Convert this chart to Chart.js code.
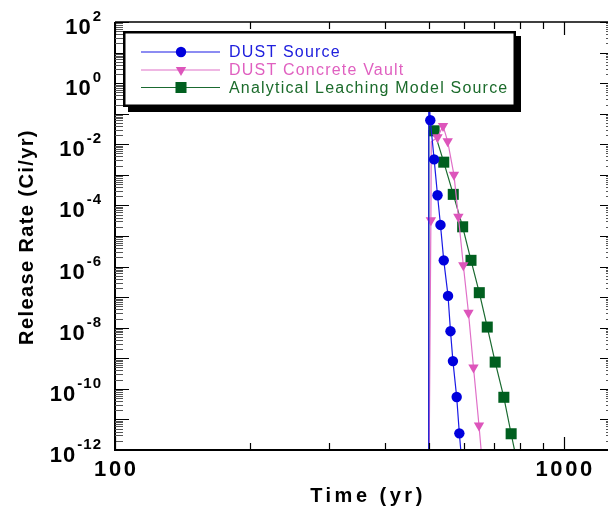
<!DOCTYPE html>
<html>
<head>
<meta charset="utf-8">
<script src="https://cdn.jsdelivr.net/npm/chart.js@4.4.1/dist/chart.umd.min.js"></script>
<style>
  html, body { margin: 0; padding: 0; background: #fff; overflow: hidden; width: 608px; height: 512px; }
  #wrap { position: relative; width: 614px; height: 512px; }
  canvas { display: block; }
</style>
</head>
<body>
<div id="wrap"><canvas id="chart" width="614" height="512"></canvas></div>
<script>
// Release rate histories (Ci/yr) after container failure at 500 yr.
const seriesNames = ['DUST Source', 'DUST Concrete Vault', 'Analytical Leaching Model Source'];

const dustSourceTime   = [500, 500, 504, 514, 523, 531, 540, 552, 559, 566, 577, 585, 594];
const dustSourceRate   = [1e-14, 0.5, 0.061, 3.2e-3, 2.15e-4, 2.3e-5, 1.6e-6, 1.1e-7, 7.7e-9, 8.1e-10, 5.4e-11, 3.5e-12, 2.5e-13];
const dustSourceMarker = [0, 0, 1, 1, 1, 1, 1, 1, 1, 1, 1, 1, 1];

const vaultTime   = [500, 505.5, 506.5, 523, 538, 551, 569, 582, 597, 613, 629, 647, 664];
const vaultRate   = [1e-14, 3.3e-5, 0.012, 0.017, 0.04, 0.0125, 1.0e-3, 4.3e-5, 1.1e-6, 3.1e-8, 5.0e-10, 6.3e-12, 8e-14];
const vaultMarker = [0, 1, 0, 1, 1, 1, 1, 1, 1, 1, 1, 1, 1];

const leachTime   = [500, 500, 514, 540, 567, 595, 621, 648, 675, 703, 735, 763, 793];
const leachRate   = [1e-14, 0.028, 0.0276, 2.6e-3, 2.3e-4, 2.0e-5, 1.6e-6, 1.4e-7, 1.05e-8, 7.5e-10, 5.3e-11, 3.4e-12, 2.2e-13];
const leachMarker = [0, 0, 1, 1, 1, 1, 1, 1, 1, 1, 1, 1, 1];

// Axis ranges and labelled ticks
const timeRange = [100, 1280];
const rateRange = [1e-12, 1e2];
const timeLabels = [100, 1000];
const timeMinorTicks = [200, 300, 400, 500, 600, 700, 800, 900];
const rateLabelExponents = [2, 0, -2, -4, -6, -8, -10, -12];

const FONT = '"Liberation Sans", Arial, Helvetica, sans-serif';

function toPoints(xs, ys) {
  return xs.map((x, i) => ({ x: x, y: ys[i] }));
}

const styles = [
  { line: '#1a1ae6', fill: '#0000dd', text: '#2020dd', shape: 'circle',   radius: 5.2, rotation: 0 },
  { line: '#e070c8', fill: '#dd55bb', text: '#e060c0', shape: 'triangle', radius: 6,   rotation: 180 },
  { line: '#1a6a30', fill: '#005f1f', text: '#1b6b2b', shape: 'rect',     radius: 7.8, rotation: 0 }
];
const markers = [dustSourceMarker, vaultMarker, leachMarker];

const datasets = [
  toPoints(dustSourceTime, dustSourceRate),
  toPoints(vaultTime, vaultRate),
  toPoints(leachTime, leachRate)
].map((data, k) => ({
  label: seriesNames[k],
  data: data,
  borderColor: styles[k].line,
  borderWidth: 1.2,
  backgroundColor: styles[k].fill,
  pointBackgroundColor: styles[k].fill,
  pointBorderColor: styles[k].fill,
  pointBorderWidth: 0,
  pointStyle: styles[k].shape,
  pointRotation: styles[k].rotation,
  pointRadius: ctx => markers[k][ctx.dataIndex] ? styles[k].radius : 0,
  pointHoverRadius: ctx => markers[k][ctx.dataIndex] ? styles[k].radius : 0,
  tension: 0,
  fill: false,
  clip: 0
}));

function drawMarker(ctx, style, x, y) {
  ctx.save();
  ctx.fillStyle = style.fill;
  ctx.beginPath();
  const r = style.radius;
  if (style.shape === 'circle') {
    ctx.arc(x, y, r, 0, Math.PI * 2);
  } else if (style.shape === 'rect') {
    const s = r * Math.SQRT1_2;
    ctx.rect(x - s, y - s, 2 * s, 2 * s);
  } else {
    // downward pointing triangle
    for (let i = 0; i < 3; i++) {
      const ang = Math.PI + i * 2 * Math.PI / 3;
      const px = x + Math.sin(ang) * r, py = y - Math.cos(ang) * r;
      if (i === 0) ctx.moveTo(px, py); else ctx.lineTo(px, py);
    }
    ctx.closePath();
  }
  ctx.fill();
  ctx.restore();
}

function spacedText(ctx, text, x, y, spacing) {
  ctx.letterSpacing = spacing + 'px';
  ctx.fillText(text, x, y);
  ctx.letterSpacing = '0px';
}

const framePlugin = {
  id: 'frame',
  afterDatasetsDraw(chart) {
    const ctx = chart.ctx;
    const xs = chart.scales.x, ys = chart.scales.y;
    const a = chart.chartArea;

    ctx.save();
    // frame lines
    ctx.strokeStyle = '#000';
    ctx.lineWidth = 2;
    ctx.beginPath();
    ctx.moveTo(a.left, a.top); ctx.lineTo(a.left, a.bottom); ctx.lineTo(a.right, a.bottom);
    ctx.stroke();
    ctx.lineWidth = 1.5;
    ctx.beginPath();
    ctx.moveTo(a.left, a.top); ctx.lineTo(a.right, a.top); ctx.lineTo(a.right, a.bottom);
    ctx.stroke();

    // rate axis ticks (left and right sides, pointing inward)
    for (let e = -12; e <= 2; e++) {
      const y = Math.round(ys.getPixelForValue(Math.pow(10, e))) + 0.5;
      ctx.strokeStyle = '#000';
      ctx.lineWidth = 1.2;
      ctx.beginPath();
      ctx.moveTo(a.left, y); ctx.lineTo(a.left + 14, y);
      ctx.moveTo(a.right, y); ctx.lineTo(a.right - 12, y);
      ctx.stroke();
      if (e < 2) {
        ctx.strokeStyle = '#555';
        ctx.lineWidth = 1;
        ctx.beginPath();
        for (let m = 2; m <= 9; m++) {
          const ym = Math.round(ys.getPixelForValue(m * Math.pow(10, e))) + 0.5;
          ctx.moveTo(a.left, ym); ctx.lineTo(a.left + 8, ym);
          ctx.moveTo(a.right, ym); ctx.lineTo(a.right - 6, ym);
        }
        ctx.stroke();
      }
    }

    // time axis ticks (bottom and top, pointing inward)
    ctx.strokeStyle = '#000';
    ctx.lineWidth = 1.2;
    ctx.beginPath();
    timeMinorTicks.forEach(t => {
      const x = Math.round(xs.getPixelForValue(t)) + 0.5;
      ctx.moveTo(x, a.bottom); ctx.lineTo(x, a.bottom - 7);
      ctx.moveTo(x, a.top); ctx.lineTo(x, a.top + 7);
    });
    timeLabels.forEach(t => {
      const x = Math.round(xs.getPixelForValue(t)) + 0.5;
      ctx.moveTo(x, a.bottom); ctx.lineTo(x, a.bottom - 13);
      ctx.moveTo(x, a.top); ctx.lineTo(x, a.top + 13);
    });
    ctx.stroke();

    // legend box with drop shadow
    const bx = 123, by = 31, bw = 393, bh = 76;
    ctx.fillStyle = '#000';
    ctx.fillRect(bx + 5, by + 5, bw, bh);
    ctx.fillStyle = '#fff';
    ctx.fillRect(bx, by, bw, bh);
    ctx.strokeStyle = '#000';
    ctx.lineWidth = 2.5;
    ctx.strokeRect(bx + 1.25, by + 1.25, bw - 2.5, bh - 2.5);

    const rows = [52, 70, 87.5];
    chart.data.datasets.forEach((ds, k) => {
      const y = rows[k];
      ctx.strokeStyle = styles[k].line;
      ctx.lineWidth = 1.2;
      ctx.beginPath();
      ctx.moveTo(141, y); ctx.lineTo(220, y);
      ctx.stroke();
      drawMarker(ctx, styles[k], 181, y);
      ctx.fillStyle = styles[k].text;
      ctx.font = '16px ' + FONT;
      ctx.textAlign = 'left';
      ctx.textBaseline = 'middle';
      spacedText(ctx, ds.label, 229, y + 1, 1.2);
    });

    // rate tick labels: 10 with superscript exponent
    ctx.fillStyle = '#000';
    ctx.textAlign = 'right';
    ctx.textBaseline = 'alphabetic';
    rateLabelExponents.forEach(e => {
      const y = ys.getPixelForValue(Math.pow(10, e));
      const ex = String(e);
      ctx.font = 'bold 15px ' + FONT;
      ctx.letterSpacing = '1px';
      const ew = ctx.measureText(ex).width;
      ctx.fillText(ex, 102, y - 1);
      ctx.font = 'bold 22px ' + FONT;
      spacedText(ctx, '10', 102 - ew - 1, y + 12, 1);
    });

    // time tick labels
    ctx.font = 'bold 22px ' + FONT;
    ctx.textAlign = 'center';
    timeLabels.forEach(t => {
      const x = xs.getPixelForValue(t);
      spacedText(ctx, String(t), x + 1.3, 476, 2.6);
    });

    // axis titles
    ctx.font = 'bold 20px ' + FONT;
    ctx.textAlign = 'center';
    spacedText(ctx, 'Time (yr)', 368, 502, 3.5);

    ctx.save();
    ctx.translate(32.5, 237);
    ctx.rotate(-Math.PI / 2);
    spacedText(ctx, 'Release Rate (Ci/yr)', 0, 0, 1.4);
    ctx.restore();

    ctx.restore();
  }
};

new Chart(document.getElementById('chart'), {
  type: 'line',
  data: { datasets: datasets },
  options: {
    responsive: false,
    maintainAspectRatio: false,
    animation: false,
    devicePixelRatio: 1,
    events: [],
    layout: { autoPadding: false, padding: { left: 0, top: 22, right: 2, bottom: 0 } },
    plugins: { legend: { display: false }, tooltip: { enabled: false }, title: { display: false } },
    scales: {
      x: {
        type: 'logarithmic',
        min: timeRange[0], max: timeRange[1],
        grid: { display: false }, border: { display: false },
        ticks: { display: false },
        afterFit: s => { s.height = 62; }
      },
      y: {
        type: 'logarithmic',
        min: rateRange[0], max: rateRange[1],
        grid: { display: false }, border: { display: false },
        ticks: { display: false },
        afterFit: s => { s.width = 115; }
      }
    }
  },
  plugins: [framePlugin]
});
</script>
</body>
</html>
